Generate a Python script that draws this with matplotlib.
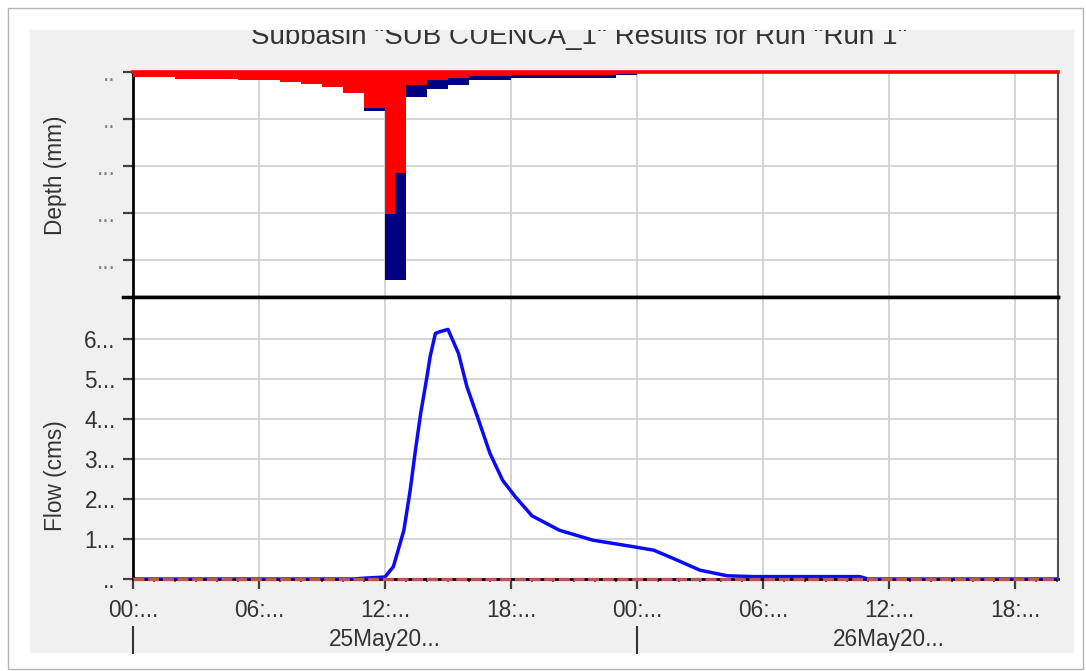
import matplotlib
matplotlib.use('Agg')
import matplotlib.pyplot as plt
from matplotlib.patches import Rectangle
from matplotlib.lines import Line2D
from matplotlib.transforms import Bbox, TransformedBbox, blended_transform_factory
import numpy as np

plt.rcParams['font.family'] = ['Liberation Sans', 'DejaVu Sans']

# ---------------- data ----------------
title = 'Subbasin "SUB CUENCA_1" Results for Run "Run 1"'

# hyetograph intervals (hours from 25May 00:00)
rain_start_h = [0, 2, 5, 7, 8, 9, 10, 11, 12, 12.5, 13, 14, 15, 16, 18, 23]
rain_end_h = [2, 5, 7, 8, 9, 10, 11, 12, 12.5, 13, 14, 15, 16, 18, 23, 24]
precip_mm = [0.5, 0.7, 0.9, 1.1, 1.3, 1.55, 2.2, 4.15, 22.1, 22.1, 2.7, 1.8, 1.4, 0.9, 0.65, 0.35]
loss_mm = [0.5, 0.7, 0.9, 1.1, 1.3, 1.55, 2.2, 3.8, 15.1, 10.7, 1.4, 0.9, 0.6, 0.4, 0.3, 0.2]

# outflow hydrograph
flow_t_h = [0, 10.5, 11, 12, 12.4, 12.9, 13.2, 13.45, 13.7, 14.0, 14.15, 14.4, 14.6, 15.0,
            15.5, 15.9, 16.4, 17.0, 17.6, 18.2, 19.0, 20.3, 21.9, 23.8, 24.8, 25.7, 27.0,
            28.3, 29.5, 34.6, 35.0, 44.05]
flow_cms = [0, 0, 0.02, 0.05, 0.31, 1.22, 2.22, 3.22, 4.14, 5.06, 5.56, 6.14, 6.18, 6.24,
            5.64, 4.81, 4.06, 3.14, 2.47, 2.06, 1.58, 1.22, 0.97, 0.81, 0.72, 0.52, 0.22,
            0.08, 0.06, 0.06, 0, 0]

x_tick_hours = [0, 6, 12, 18, 24, 30, 36, 42]
x_tick_labels = ['00:...', '06:...', '12:...', '18:...', '00:...', '06:...', '12:...', '18:...']
day_label_hours = [12, 36]
day_labels = ['25May20...', '26May20...']
day_boundary_hours = [0, 24]

depth_ticks = [0, 5, 10, 15, 20]
depth_tick_labels = ['..', '..', '...', '...', '...']
flow_ticks = [0, 1, 2, 3, 4, 5, 6]
flow_tick_labels = ['..', '1...', '2...', '3...', '4...', '5...', '6...']

# ---------------- figure ----------------
W, H = 1086, 671
fig = plt.figure(figsize=(W / 100, H / 100), dpi=100, facecolor='white')


def fx(x):
    return x / W


def fy(y):
    return 1 - y / H


# outer frame and gray panel
fig.patches.append(Rectangle((fx(8), fy(669)), fx(1083) - fx(8), fy(8) - fy(669),
                             transform=fig.transFigure, facecolor='white',
                             edgecolor='#b4b4b4', lw=1.0, zorder=-3))
fig.patches.append(Rectangle((fx(30), fy(653)), fx(1074) - fx(30), fy(30) - fy(653),
                             transform=fig.transFigure, facecolor='#f0f0f0',
                             edgecolor='none', zorder=-2))

TXT = '#333333'
FS = 16.3
XMAX = 44.05

ax1 = fig.add_axes([fx(133), fy(297), fx(1058) - fx(133), fy(72) - fy(297)])
ax2 = fig.add_axes([fx(133), fy(579), fx(1058) - fx(133), fy(297) - fy(579)])

# ---- top panel: precipitation (loss + excess) ----
widths = np.array(rain_end_h) - np.array(rain_start_h)
excess_mm = np.array(precip_mm) - np.array(loss_mm)
ax1.bar(rain_start_h, loss_mm, width=widths, align='edge', color='#ff0000', lw=0, zorder=3)
ax1.bar(rain_start_h, excess_mm, bottom=loss_mm, width=widths, align='edge',
        color='#000080', lw=0, zorder=3)
ax1.axhline(0, color='#ff0000', lw=2.6, clip_on=False, zorder=5)
ax1.set_xlim(0, XMAX)
ax1.set_ylim(23.9, 0)
ax1.set_xticks(x_tick_hours)
ax1.set_yticks(depth_ticks)
ax1.set_yticklabels(depth_tick_labels)
ax1.grid(True, color='#d2d2d2', lw=1.3)
ax1.set_axisbelow(True)
ax1.tick_params(axis='x', length=0, labelbottom=False)
ax1.tick_params(axis='y', length=7.5, width=1.6, color='#404040', pad=5,
                labelsize=FS, labelcolor='#8a7a6a')
ax1.set_ylabel('Depth (mm)', fontsize=FS, color=TXT)
ax1.yaxis.set_label_coords(-0.071, 0.542)
ax1.spines['left'].set_linewidth(2)
ax1.spines['left'].set_color('black')
ax1.spines['right'].set_linewidth(1.5)
ax1.spines['right'].set_color('#505050')
ax1.spines['top'].set_visible(False)
ax1.spines['bottom'].set_linewidth(2.5)
ax1.spines['bottom'].set_color('black')

# ---- bottom panel: flow ----
ax2.plot(flow_t_h, flow_cms, color='#0a0aff', lw=2.5, zorder=3,
         solid_capstyle='round', solid_joinstyle='round')
ax2.axhline(0, color='#b45a58', lw=2.4, dashes=(3.3, 1.1), zorder=4, clip_on=False)
ax2.set_xlim(0, XMAX)
ax2.set_ylim(0, 7.05)
ax2.set_yticks(flow_ticks)
ax2.set_yticklabels(flow_tick_labels)
ax2.set_xticks(x_tick_hours)
ax2.set_xticklabels(x_tick_labels)
ax2.set_xticks(np.arange(0, 45, 1), minor=True)
ax2.grid(True, which='major', color='#d2d2d2', lw=1.3)
ax2.set_axisbelow(True)
ax2.tick_params(axis='x', which='major', length=7.5, width=1.6, color='#404040', pad=7,
                labelsize=FS, labelcolor=TXT)
ax2.tick_params(axis='x', which='minor', length=2.5, width=1.2, color='#404040')
ax2.tick_params(axis='y', length=7.5, width=1.6, color='#404040', pad=5,
                labelsize=FS, labelcolor=TXT)
ax2.set_ylabel('Flow (cms)', fontsize=FS, color=TXT)
ax2.yaxis.set_label_coords(-0.071, 0.365)
ax2.spines['left'].set_linewidth(2)
ax2.spines['left'].set_color('black')
ax2.spines['bottom'].set_linewidth(2)
ax2.spines['bottom'].set_color('black')
ax2.spines['right'].set_linewidth(1.5)
ax2.spines['right'].set_color('#505050')
ax2.spines['top'].set_visible(False)

blend = blended_transform_factory(ax2.transData, ax2.transAxes)
for h in day_boundary_hours:
    ax2.plot([h, h], [-0.170, -0.262], transform=blend, color='#333333', lw=1.5,
             clip_on=False)
for h, lab in zip(day_label_hours, day_labels):
    ax2.text(h, -0.216, lab, transform=blend, ha='center', va='center', fontsize=FS,
             color=TXT)

# separator line between panels (extends into tick area)
fig.lines.append(Line2D([fx(123), fx(1058)], [fy(297), fy(297)], transform=fig.transFigure,
                        color='black', lw=2.5, zorder=10))

# title, clipped by the panel top edge
t = fig.text(fx(579), fy(44), title, ha='center', va='baseline', fontsize=20, color=TXT)
t.set_clip_box(TransformedBbox(Bbox([[fx(30), fy(653)], [fx(1074), fy(30)]]), fig.transFigure))
t.set_clip_on(True)

fig.savefig('out.png', dpi=100, facecolor='white')
